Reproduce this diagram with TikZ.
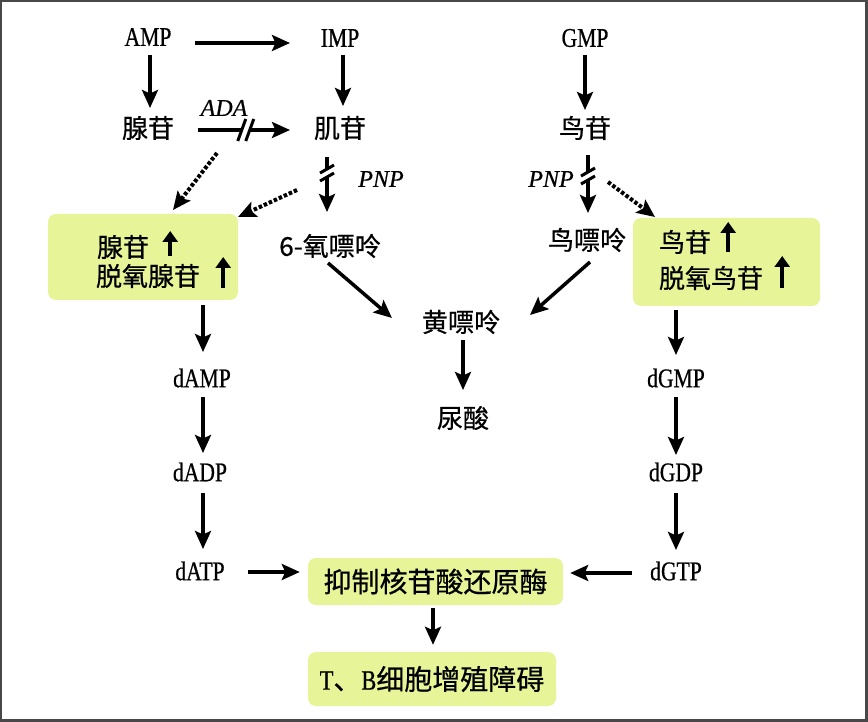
\documentclass[tikz,border=0pt]{standalone}
\usepackage{fontspec}
\setmainfont{Liberation Serif}[FakeStretch=0.8,FakeBold=0.6]
\newfontfamily\itl{Liberation Serif}[FakeBold=0.5]
\newfontfamily\cjk{Noto Sans CJK SC}[FakeBold=0.6]
\usetikzlibrary{arrows.meta}
\definecolor{boxgreen}{RGB}{231,245,152}
\definecolor{framegray}{RGB}{72,72,72}
\tikzset{
  lat/.style={inner sep=0pt, font=\fontsize{27}{30}\selectfont},
  zh/.style={inner sep=0pt, font=\cjk\fontsize{26}{30}\selectfont},
  zhbig/.style={inner sep=0pt, font=\cjk\fontsize{28}{32}\selectfont},
  enz/.style={inner sep=0pt, font=\itl\itshape\fontsize{24}{28}\selectfont},
  gbox/.style={fill=boxgreen, rounded corners=8pt, draw=none, inner sep=0pt},
  arr/.style={line width=3.5pt, -{Stealth[length=18pt,width=16pt,inset=3.5pt]}},
  darr/.style={arr, line width=4pt, dash pattern=on 3.5pt off 2pt},
  uarr/.style={line width=4pt, -{Triangle[length=11pt,width=15pt]}},
  breakh/.pic={
    \fill[white] (-6.8,5)--(-3.2,-5)--(4.8,-5)--(1.2,5)--cycle;
    \draw[line width=3pt] (-9,11)--(-1,-11);
    \draw[line width=3pt] (-1,11)--(7,-11);
  },
  breakv/.pic={
    \fill[white] (-2.5,-3.57)--(2.5,-6.43)--(2.5,1.57)--(-2.5,4.43)--cycle;
    \draw[line width=3pt] (-7,-1)--(7,-9);
    \draw[line width=3pt] (-7,7)--(7,-1);
  }
}
\begin{document}
\begin{tikzpicture}[x=1pt,y=-1pt]
\useasboundingbox (0,0) rectangle (868,722);
\fill[white] (0,0) rectangle (868,722);

% boxes
\node[gbox, minimum width=190pt, minimum height=86pt] (lbox) at (143,257) {};
\node[gbox, minimum width=187pt, minimum height=88pt] (rbox) at (726.5,262) {};
\node[gbox, zhbig, minimum width=255pt, minimum height=47pt] (cbox) at (435.5,581.5) {抑制核苷酸还原酶};
\node[gbox, minimum width=248pt, minimum height=54pt, font=\fontsize{28}{32}\selectfont] (bbox) at (432,679) {T{\cjk 、}B{\cjk 细胞增殖障碍}};

% text nodes
\node[lat] (amp) at (148,37) {AMP};
\node[lat] (imp) at (340,38) {IMP};
\node[lat] (gmp) at (585,38) {GMP};
\node[zh] (ade) at (148,128) {腺苷};
\node[zh] (ino) at (340,128) {肌苷};
\node[zh] (guo) at (585,128) {鸟苷};
\node[enz] (ada) at (224,108) {ADA};
\node[enz] (pnp1) at (381,179) {PNP};
\node[enz] (pnp2) at (551,179) {PNP};
\node[zh] (l1) at (123,247) {腺苷};
\node[zh] (l2) at (148,276) {脱氧腺苷};
\node[zh] (r1) at (685,242) {鸟苷};
\node[zh] (r2) at (711,278) {脱氧鸟苷};
\node[zh] (o6) at (330,246) {6-氧嘌呤};
\node[zh] (gua) at (587,240) {鸟嘌呤};
\node[zh] (xan) at (461,322) {黄嘌呤};
\node[zh] (uric) at (463,418) {尿酸};
\node[lat] (damp) at (202,378) {dAMP};
\node[lat] (dadp) at (200,472) {dADP};
\node[lat] (datp) at (200,571) {dATP};
\node[lat] (dgmp) at (676,378) {dGMP};
\node[lat] (dgdp) at (676,472) {dGDP};
\node[lat] (dgtp) at (676,571) {dGTP};

% up arrows in boxes
\draw[uarr] ([shift={(21,9)}]l1.east) -- ([shift={(21,-16)}]l1.east);
\draw[uarr] ([shift={(23,12)}]l2.east) -- ([shift={(23,-19)}]l2.east);
\draw[uarr] ([shift={(17,10)}]r1.east) -- ([shift={(17,-20)}]r1.east);
\draw[uarr] ([shift={(19,10)}]r2.east) -- ([shift={(19,-22)}]r2.east);

% top connectors
\draw[arr] ([shift={(47,6)}]amp.center) -- ([shift={(-50,5)}]imp.center);
\draw[arr] ([shift={(2,18)}]amp.center) -- ([shift={(2,-20)}]ade.center);
\draw[arr] ([shift={(3,17)}]imp.center) -- ([shift={(3,-22)}]ino.center);
\draw[arr] ([shift={(0,17)}]gmp.center) -- ([shift={(0,-18)}]guo.center);
\draw[arr] ([shift={(50,2)}]ade.center) -- coordinate[pos=0.53] (bada) ([shift={(-50,2)}]ino.center);
\pic at (bada) {breakh};
\draw[arr] ([shift={(-13,29)}]ino.center) -- coordinate[pos=0.31] (bp1) ([shift={(-3,-34)}]o6.center);
\pic at (bp1) {breakv};
\draw[arr] ([shift={(3,27)}]guo.center) -- coordinate[pos=0.38] (bp2) ([shift={(1,-27)}]gua.center);
\pic at (bp2) {breakv};

% dashed connectors
\draw[darr] ([shift={(-123,25)}]ino.center) -- ([shift={(30,-47)}]lbox.center);
\draw[darr] ([shift={(-43,62)}]ino.center) -- ([shift={(95,-40)}]lbox.center);
\draw[darr] ([shift={(23,54)}]guo.center) -- ([shift={(-71.5,-45)}]rbox.center);

% purine to uric acid
\draw[arr] ([shift={(-2,17)}]o6.center) -- ([shift={(-69,-4)}]xan.center);
\draw[arr] ([shift={(3,22)}]gua.center) -- ([shift={(69,-7)}]xan.center);
\draw[arr] ([shift={(2,18)}]xan.center) -- ([shift={(0,-28)}]uric.center);

% deoxy chains
\draw[arr] ([shift={(60,48)}]lbox.center) -- ([shift={(1,-26)}]damp.center);
\draw[arr] ([shift={(1,19)}]damp.center) -- ([shift={(3,-19)}]dadp.center);
\draw[arr] ([shift={(3,21)}]dadp.center) -- ([shift={(3,-22)}]datp.center);
\draw[arr] ([shift={(-50.5,48)}]rbox.center) -- ([shift={(0,-23)}]dgmp.center);
\draw[arr] ([shift={(0,19)}]dgmp.center) -- ([shift={(0,-17)}]dgdp.center);
\draw[arr] ([shift={(0,21)}]dgdp.center) -- ([shift={(0,-21)}]dgtp.center);

% into enzyme box
\draw[arr] ([shift={(48,1)}]datp.center) -- ([shift={(-8,-9.5)}]cbox.west);
\draw[arr] ([shift={(-44,2)}]dgtp.center) -- ([shift={(7,-8.5)}]cbox.east);
\draw[arr] ([shift={(-2.5,3)}]cbox.south) -- ([shift={(1,-7)}]bbox.north);

% frame
\draw[framegray, line width=3pt] (0.5,0.5) rectangle (866.5,720.5);
\end{tikzpicture}
\end{document}
